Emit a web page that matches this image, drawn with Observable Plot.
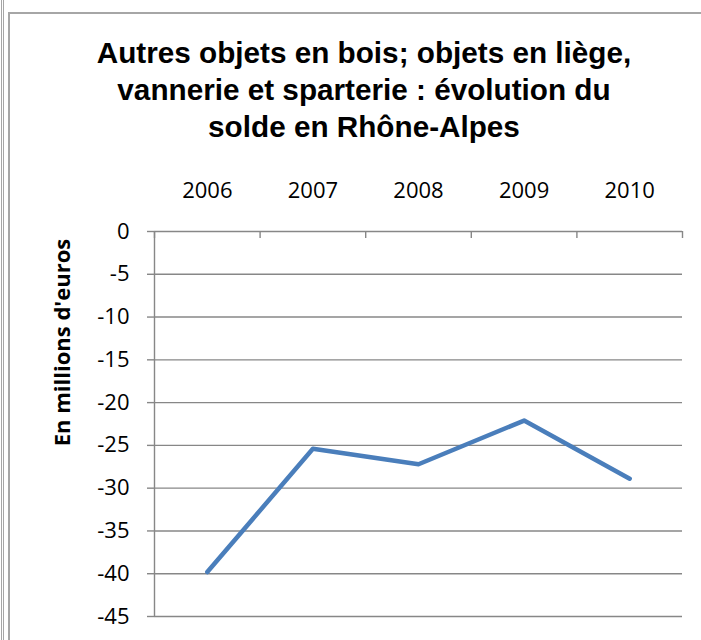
<!DOCTYPE html>
<html><head><meta charset="utf-8">
<script src="https://cdn.jsdelivr.net/npm/d3@7"></script>
<script src="https://cdn.jsdelivr.net/npm/@observablehq/plot@0.6"></script>
<style>
body{margin:0;background:#fff}
#wrap{position:relative;width:701px;height:640px;overflow:hidden;background:#fff}
#title{height:160px;box-sizing:border-box;padding:34px 0 0 27px;text-align:center;font:700 29.7px/37px "Liberation Sans";color:#000;white-space:nowrap}
.f{position:absolute;background:#a6a6a6;pointer-events:none}
#chart svg{display:block;background:transparent}
</style></head><body>
<div id="wrap">
<div id="title">Autres objets en bois; objets en liège,<br>vannerie et sparterie : évolution du<br>solde en Rhône-Alpes</div>
<div id="chart"></div>
<div class="f" style="left:1px;top:0;width:1px;height:640px"></div>
<div class="f" style="left:3px;top:0;width:1px;height:640px"></div>
<div class="f" style="left:8px;top:12px;width:2px;height:628px"></div>
<div class="f" style="left:8px;top:12px;width:693px;height:2px"></div>
</div>
<script>
const years = [2006, 2007, 2008, 2009, 2010];
const values = [-39.8, -25.4, -27.2, -22.1, -28.9];
const yTicks = [0, -5, -10, -15, -20, -25, -30, -35, -40, -45];
const categoryBounds = [2005.5, 2006.5, 2007.5, 2008.5, 2009.5, 2010.5];
const yLabel = "En millions d'euros";

const data = years.map((y, i) => ({year: y, value: values[i]}));
const grid = "#878787";

const plot = Plot.plot({
  width: 701, height: 480,
  marginTop: 71, marginBottom: 24, marginLeft: 154, marginRight: 19,
  x: {domain: [categoryBounds[0], categoryBounds[categoryBounds.length - 1]]},
  y: {domain: [-45, 0]},
  style: {fontFamily: "Open Sans", fontSize: "22px", color: "#000", background: "transparent"},
  marks: [
    Plot.ruleY(yTicks, {stroke: grid, strokeWidth: 1.4, strokeOpacity: 1}),
    Plot.ruleX([categoryBounds[0]], {x: d => d, stroke: grid, strokeWidth: 1.4, strokeOpacity: 1}),
    Plot.ruleX(categoryBounds, {x: d => d, y1: 0, y2: 0, insetBottom: -7, stroke: grid, strokeWidth: 1.4, strokeOpacity: 1}),
    Plot.axisY({ticks: yTicks, tickSize: 7, tickPadding: 18, tickFormat: d => String(d), stroke: grid, strokeWidth: 1.4, strokeOpacity: 1, fill: "#000", fontSize: 22, label: null}),
    Plot.axisX({anchor: "top", ticks: years, tickSize: 0, tickPadding: 34, tickFormat: d => String(d), fill: "#000", fontSize: 22, label: null}),
    Plot.line(data, {x: "year", y: "value", stroke: "#4A7EBB", strokeWidth: 4.5, strokeLinecap: "round", strokeLinejoin: "round"}),
    Plot.text([yLabel], {frameAnchor: "top-left", textAnchor: "middle", lineAnchor: "middle", dx: -92, dy: 111, rotate: -90, fontWeight: "bold", fontSize: 22, fill: "#000"})
  ]
});
document.getElementById("chart").appendChild(plot);
</script>
</body></html>
